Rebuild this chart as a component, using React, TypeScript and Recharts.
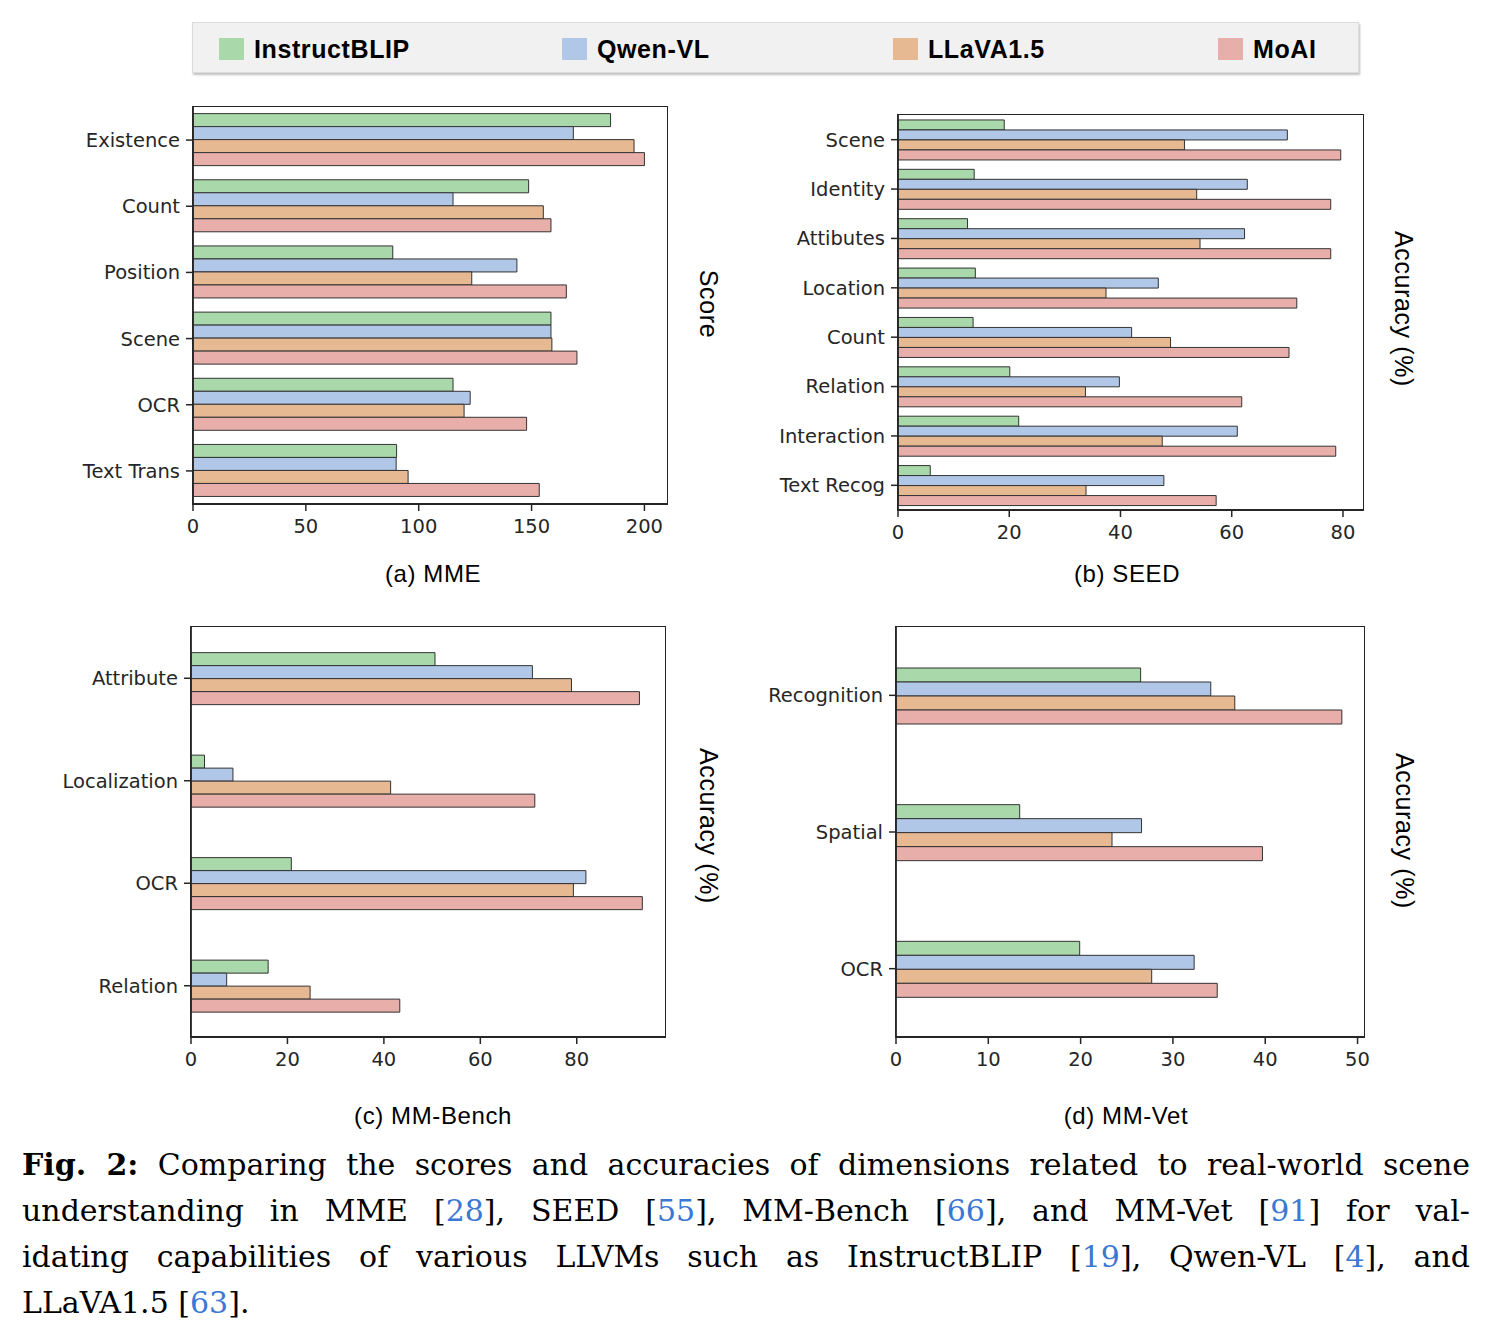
import React from "react"
import { Bar, BarChart, XAxis, YAxis } from "recharts"

// categories per benchmark
const mmeCategories = ["Existence", "Count", "Position", "Scene", "OCR", "Text Trans"]
const seedCategories = ["Scene", "Identity", "Attibutes", "Location", "Count", "Relation", "Interaction", "Text Recog"]
const mmbenchCategories = ["Attribute", "Localization", "OCR", "Relation"]
const mmvetCategories = ["Recognition", "Spatial", "OCR"]

// MME scores
const mmeInstructBLIP = [185, 148.7, 88.5, 158.6, 115.2, 90.2]
const mmeQwenVL = [168.5, 115.2, 143.5, 158.6, 122.8, 90]
const mmeLLaVA = [195.4, 155.2, 123.5, 159, 120.1, 95.3]
const mmeMoAI = [200, 158.6, 165.4, 170.1, 147.8, 153.4]

// SEED accuracies
const seedInstructBLIP = [19.1, 13.7, 12.5, 13.9, 13.5, 20.1, 21.7, 5.8]
const seedQwenVL = [70.0, 62.8, 62.3, 46.8, 42.0, 39.8, 61.0, 47.8]
const seedLLaVA = [51.5, 53.7, 54.3, 37.4, 49.0, 33.7, 47.5, 33.8]
const seedMoAI = [79.6, 77.8, 77.8, 71.7, 70.3, 61.8, 78.7, 57.2]

// MM-Bench accuracies
const mmbenchInstructBLIP = [50.6, 2.8, 20.8, 16.0]
const mmbenchQwenVL = [70.8, 8.7, 81.9, 7.4]
const mmbenchLLaVA = [78.9, 41.4, 79.3, 24.7]
const mmbenchMoAI = [93.0, 71.3, 93.6, 43.3]

// MM-Vet accuracies
const mmvetInstructBLIP = [26.5, 13.4, 19.9]
const mmvetQwenVL = [34.1, 26.6, 32.3]
const mmvetLLaVA = [36.7, 23.4, 27.7]
const mmvetMoAI = [48.3, 39.7, 34.8]

// axis ticks
const mmeTicks = [0, 50, 100, 150, 200]
const seedTicks = [0, 20, 40, 60, 80]
const mmbenchTicks = [0, 20, 40, 60, 80]
const mmvetTicks = [0, 10, 20, 30, 40, 50]

const models = [
  { key: "instructblip", name: "InstructBLIP", color: "#a9d8aa" },
  { key: "qwenvl", name: "Qwen-VL", color: "#b1c7e7" },
  { key: "llava", name: "LLaVA1.5", color: "#e6b993" },
  { key: "moai", name: "MoAI", color: "#e8aeaa" },
]

const INK = "#262626"
const SANS = "'Liberation Sans', Arial, sans-serif"

function buildRows(categories: string[], series: number[][]) {
  return categories.map((name, i) => ({
    name,
    instructblip: series[0][i],
    qwenvl: series[1][i],
    llava: series[2][i],
    moai: series[3][i],
  }))
}

type PanelProps = {
  categories: string[]
  series: number[][]
  ticks: number[]
  xMax: number
  plotLeft: number
  plotTop: number
  plotW: number
  plotH: number
  gap: string
  yLabel: string
  labelPos: [number, number]
  caption: string
  captionPos: [number, number]
}

function Panel(p: PanelProps) {
  const rows = buildRows(p.categories, p.series)
  const yw = 180
  const xh = 40
  const mr = 24
  return (
    <>
      <div style={{ position: "absolute", left: p.plotLeft - yw, top: p.plotTop - 2 }}>
        <BarChart
          width={yw + p.plotW + mr}
          height={p.plotH + xh + 2}
          data={rows}
          layout="vertical"
          margin={{ top: 2, right: mr, bottom: 0, left: 0 }}
          barCategoryGap={p.gap}
          barGap={0}
        >
          <XAxis
            type="number"
            domain={[0, p.xMax]}
            ticks={p.ticks}
            allowDataOverflow
            height={xh}
            tickSize={7}
            tickMargin={8}
            axisLine={{ stroke: INK, strokeWidth: 1.8 }}
            tickLine={{ stroke: INK, strokeWidth: 1.5 }}
            tick={{ fill: INK, fontSize: 19.5, fontFamily: "'DejaVu Sans'" }}
          />
          <YAxis
            type="category"
            dataKey="name"
            width={yw}
            tickSize={7}
            tickMargin={6}
            axisLine={{ stroke: INK, strokeWidth: 1.8 }}
            tickLine={{ stroke: INK, strokeWidth: 1.5 }}
            tick={{ fill: INK, fontSize: 19.5, fontFamily: "'DejaVu Sans'" }}
          />
          {models.map((m) => (
            <Bar
              key={m.key}
              dataKey={m.key}
              name={m.name}
              fill={m.color}
              stroke="#333"
              strokeWidth={1}
              isAnimationActive={false}
            />
          ))}
        </BarChart>
      </div>
      {/* axes frame */}
      <div
        style={{
          position: "absolute",
          left: p.plotLeft - 1,
          top: p.plotTop - 1,
          width: p.plotW,
          height: p.plotH,
          border: `1.8px solid ${INK}`,
          pointerEvents: "none",
        }}
      />
      <div
        style={{
          position: "absolute",
          left: p.labelPos[0],
          top: p.labelPos[1],
          transform: "translate(-50%, -50%) rotate(90deg)",
          fontFamily: SANS,
          fontSize: 25,
          whiteSpace: "nowrap",
          color: "#000",
          letterSpacing: 0.6,
        }}
      >
        {p.yLabel}
      </div>
      <div
        style={{
          position: "absolute",
          left: p.captionPos[0],
          top: p.captionPos[1],
          transform: "translate(-50%, -50%)",
          fontFamily: SANS,
          fontSize: 24,
          whiteSpace: "nowrap",
          color: "#000",
          letterSpacing: 0.6,
        }}
      >
        {p.caption}
      </div>
    </>
  )
}

const legendPatchX = [219, 562, 893, 1218]

function Legend() {
  return (
    <>
      <div
        style={{
          position: "absolute",
          left: 192,
          top: 22,
          width: 1165,
          height: 49,
          background: "#f1f1f1",
          border: "1px solid #dcdcdc",
          boxShadow: "1px 2px 2px rgba(0,0,0,0.25)",
        }}
      />
      {models.map((m, i) => (
        <React.Fragment key={m.key}>
          <div
            style={{
              position: "absolute",
              left: legendPatchX[i],
              top: 38,
              width: 25,
              height: 22,
              background: m.color,
            }}
          />
          <div
            style={{
              position: "absolute",
              left: legendPatchX[i] + 35,
              top: 38,
              lineHeight: "22px",
              fontFamily: SANS,
              fontWeight: 700,
              fontSize: 25,
              letterSpacing: 0.6,
              whiteSpace: "nowrap",
              color: "#000",
            }}
          >
            {m.name}
          </div>
        </React.Fragment>
      ))}
    </>
  )
}

const CITE = "#3a78d4"
const cite = (n: string) => <span style={{ color: CITE }}>{n}</span>

function Caption() {
  const base: React.CSSProperties = {
    position: "absolute",
    left: 22,
    width: 1448,
    fontFamily: "'DejaVu Serif', serif",
    fontSize: 30,
    lineHeight: "46px",
    color: "#000",
    whiteSpace: "nowrap",
  }
  const just: React.CSSProperties = { ...base, textAlign: "justify", textAlignLast: "justify", whiteSpace: "normal" }
  return (
    <>
      <div style={{ ...just, top: 1142 }}>
        <b>Fig. 2:</b> Comparing the scores and accuracies of dimensions related to real-world scene
      </div>
      <div style={{ ...just, top: 1188 }}>
        understanding in MME [{cite("28")}], SEED [{cite("55")}], MM-Bench [{cite("66")}], and MM-Vet [{cite("91")}] for val-
      </div>
      <div style={{ ...just, top: 1234 }}>
        idating capabilities of various LLVMs such as InstructBLIP [{cite("19")}], Qwen-VL [{cite("4")}], and
      </div>
      <div style={{ ...base, top: 1280 }}>
        LLaVA1.5 [{cite("63")}].
      </div>
    </>
  )
}

export default function App() {
  return (
    <div style={{ position: "absolute", left: 0, top: 0, width: 1492, height: 1336, background: "#fff", overflow: "hidden" }}>
      <Legend />
      <Panel
        categories={mmeCategories}
        series={[mmeInstructBLIP, mmeQwenVL, mmeLLaVA, mmeMoAI]}
        ticks={mmeTicks}
        xMax={210}
        plotLeft={193}
        plotTop={107}
        plotW={474}
        plotH={397}
        gap="10%"
        yLabel="Score"
        labelPos={[708, 304]}
        caption="(a) MME"
        captionPos={[433, 574]}
      />
      <Panel
        categories={seedCategories}
        series={[seedInstructBLIP, seedQwenVL, seedLLaVA, seedMoAI]}
        ticks={seedTicks}
        xMax={83.6}
        plotLeft={898}
        plotTop={115}
        plotW={465}
        plotH={395}
        gap="10%"
        yLabel="Accuracy (%)"
        labelPos={[1403, 309]}
        caption="(b) SEED"
        captionPos={[1127, 574]}
      />
      <Panel
        categories={mmbenchCategories}
        series={[mmbenchInstructBLIP, mmbenchQwenVL, mmbenchLLaVA, mmbenchMoAI]}
        ticks={mmbenchTicks}
        xMax={98.3}
        plotLeft={191}
        plotTop={627}
        plotW={474}
        plotH={410}
        gap="25%"
        yLabel="Accuracy (%)"
        labelPos={[708, 826]}
        caption="(c) MM-Bench"
        captionPos={[433, 1116]}
      />
      <Panel
        categories={mmvetCategories}
        series={[mmvetInstructBLIP, mmvetQwenVL, mmvetLLaVA, mmvetMoAI]}
        ticks={mmvetTicks}
        xMax={50.7}
        plotLeft={896}
        plotTop={627}
        plotW={468}
        plotH={410}
        gap="30%"
        yLabel="Accuracy (%)"
        labelPos={[1404, 831]}
        caption="(d) MM-Vet"
        captionPos={[1126, 1116]}
      />
      <Caption />
    </div>
  )
}
